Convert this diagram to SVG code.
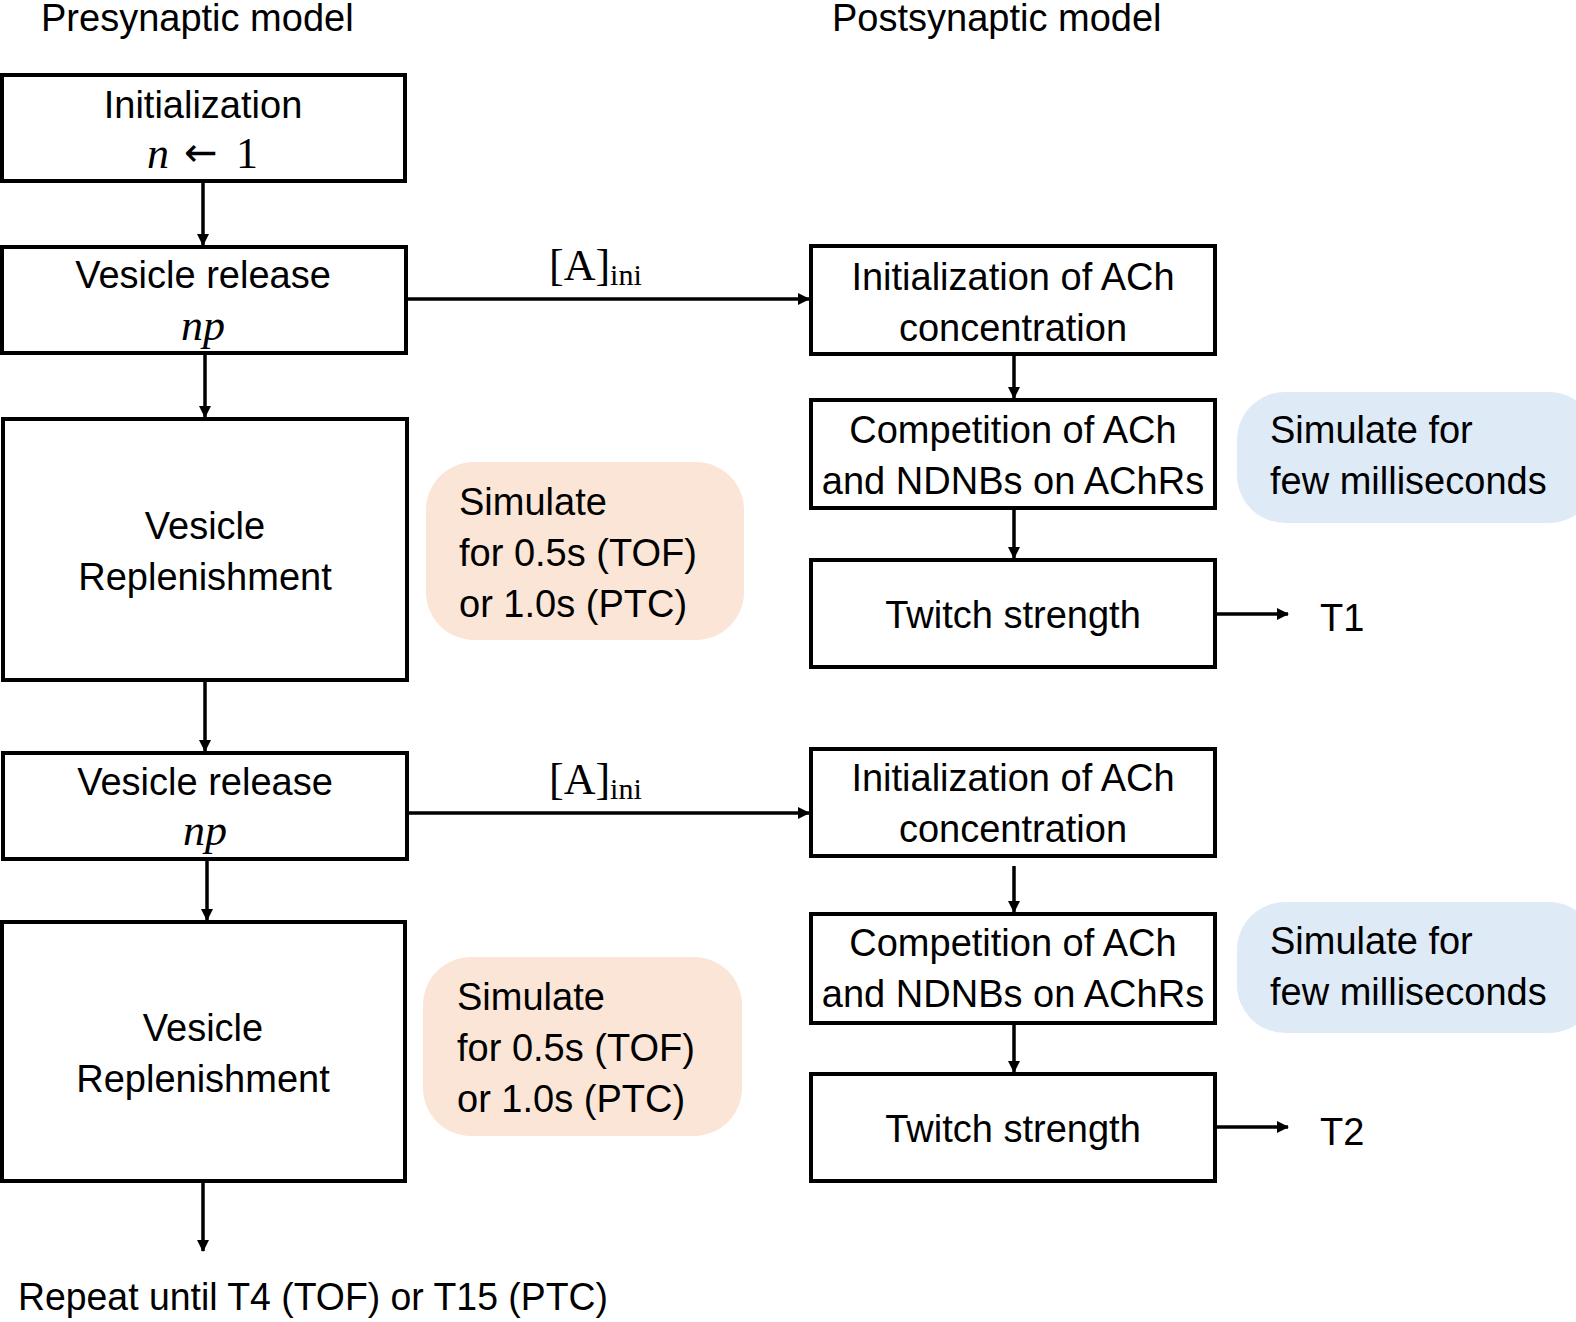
<svg xmlns="http://www.w3.org/2000/svg" width="1576" height="1322" viewBox="0 0 1576 1322">
<style>
.box{fill:#fff;stroke:#000;stroke-width:4}
.blue{fill:#DEEBF7;stroke:none}
.orange{fill:#FBE5D6;stroke:none}
.t{font-family:"Liberation Sans",Arial,sans-serif;font-size:38px;fill:#000}
.c{text-anchor:middle}
.m{font-family:"Liberation Serif","Times New Roman",serif;font-size:44px;fill:#000}
.mi{font-style:italic}
.arr{font-family:"DejaVu Sans",sans-serif;font-size:40px}
.conn line{stroke:#000;stroke-width:3.5;fill:none}
</style>
<defs>
<marker id="ah" markerUnits="userSpaceOnUse" markerWidth="12" markerHeight="12" refX="11" refY="6" orient="auto">
<path d="M0,0 L12,6 L0,12 z" fill="#000"/>
</marker>
</defs>
<text class="t" x="41" y="31">Presynaptic model</text>
<text class="t" x="832" y="31">Postsynaptic model</text>

<g id="init">
<rect class="box" x="2" y="75" width="403" height="106"/>
<text class="t c" x="203" y="118">Initialization</text>
<text class="m" y="168"><tspan class="mi" x="147">n</tspan><tspan class="arr" x="184" dy="-2">←</tspan><tspan x="236" dy="2">1</tspan></text>
</g>
<g id="release1">
<rect class="box" x="2" y="247" width="404" height="106"/>
<text class="t c" x="203" y="288">Vesicle release</text>
<text class="m mi c" x="203" y="340">np</text>
</g>
<g id="replenish1">
<rect class="box" x="3" y="419" width="404" height="261"/>
<text class="t c" x="205" y="539">Vesicle</text>
<text class="t c" x="205" y="590">Replenishment</text>
</g>
<g id="sim1">
<rect class="orange" x="426" y="462" width="318" height="178" rx="48"/>
<text class="t" x="459" y="515">Simulate</text>
<text class="t" x="459" y="566">for 0.5s (TOF)</text>
<text class="t" x="459" y="617">or 1.0s (PTC)</text>
</g>
<g id="release2">
<rect class="box" x="3" y="753" width="404" height="106"/>
<text class="t c" x="205" y="795">Vesicle release</text>
<text class="m mi c" x="205" y="845">np</text>
</g>
<g id="replenish2">
<rect class="box" x="2" y="922" width="403" height="259"/>
<text class="t c" x="203" y="1041">Vesicle</text>
<text class="t c" x="203" y="1092">Replenishment</text>
</g>
<g id="sim2">
<rect class="orange" x="423" y="957" width="319" height="179" rx="48"/>
<text class="t" x="457" y="1010">Simulate</text>
<text class="t" x="457" y="1061">for 0.5s (TOF)</text>
<text class="t" x="457" y="1112">or 1.0s (PTC)</text>
</g>
<text class="t" x="18" y="1310" textLength="590" lengthAdjust="spacingAndGlyphs">Repeat until T4 (TOF) or T15 (PTC)</text>

<g id="achinit1">
<rect class="box" x="811" y="246" width="404" height="108"/>
<text class="t c" x="1013" y="290">Initialization of ACh</text>
<text class="t c" x="1013" y="341">concentration</text>
</g>
<g id="comp1">
<rect class="box" x="811" y="400" width="404" height="108"/>
<text class="t c" x="1013" y="443">Competition of ACh</text>
<text class="t c" x="1013" y="494">and NDNBs on AChRs</text>
</g>
<g id="twitch1">
<rect class="box" x="811" y="560" width="404" height="107"/>
<text class="t c" x="1013" y="628">Twitch strength</text>
</g>
<g id="few1">
<rect class="blue" x="1237" y="392" width="360" height="131" rx="48"/>
<text class="t" x="1270" y="443">Simulate for</text>
<text class="t" x="1270" y="494">few milliseconds</text>
</g>
<text class="t" x="1320" y="631">T1</text>

<g id="achinit2">
<rect class="box" x="811" y="749" width="404" height="107"/>
<text class="t c" x="1013" y="791">Initialization of ACh</text>
<text class="t c" x="1013" y="842">concentration</text>
</g>
<g id="comp2">
<rect class="box" x="811" y="914" width="404" height="109"/>
<text class="t c" x="1013" y="956">Competition of ACh</text>
<text class="t c" x="1013" y="1007">and NDNBs on AChRs</text>
</g>
<g id="twitch2">
<rect class="box" x="811" y="1074" width="404" height="107"/>
<text class="t c" x="1013" y="1142">Twitch strength</text>
</g>
<g id="few2">
<rect class="blue" x="1237" y="902" width="360" height="131" rx="48"/>
<text class="t" x="1270" y="954">Simulate for</text>
<text class="t" x="1270" y="1005">few milliseconds</text>
</g>
<text class="t" x="1320" y="1145">T2</text>

<g class="conn">
<line x1="203" y1="183" x2="203" y2="245" marker-end="url(#ah)"/>
<line x1="205" y1="355" x2="205" y2="417" marker-end="url(#ah)"/>
<line x1="205" y1="682" x2="205" y2="751" marker-end="url(#ah)"/>
<line x1="207" y1="861" x2="207" y2="920" marker-end="url(#ah)"/>
<line x1="203" y1="1183" x2="203" y2="1251" marker-end="url(#ah)"/>
<line x1="408" y1="299" x2="809" y2="299" marker-end="url(#ah)"/>
<line x1="409" y1="813" x2="809" y2="813" marker-end="url(#ah)"/>
<line x1="1014" y1="356" x2="1014" y2="398" marker-end="url(#ah)"/>
<line x1="1014" y1="510" x2="1014" y2="558" marker-end="url(#ah)"/>
<line x1="1014" y1="866" x2="1014" y2="912" marker-end="url(#ah)"/>
<line x1="1014" y1="1025" x2="1014" y2="1072" marker-end="url(#ah)"/>
<line x1="1217" y1="614" x2="1288" y2="614" marker-end="url(#ah)"/>
<line x1="1217" y1="1127" x2="1288" y2="1127" marker-end="url(#ah)"/>
</g>
<text class="m" x="549" y="280">[A]<tspan font-size="30" dy="5">ini</tspan></text>
<text class="m" x="549" y="794">[A]<tspan font-size="30" dy="5">ini</tspan></text>
</svg>
